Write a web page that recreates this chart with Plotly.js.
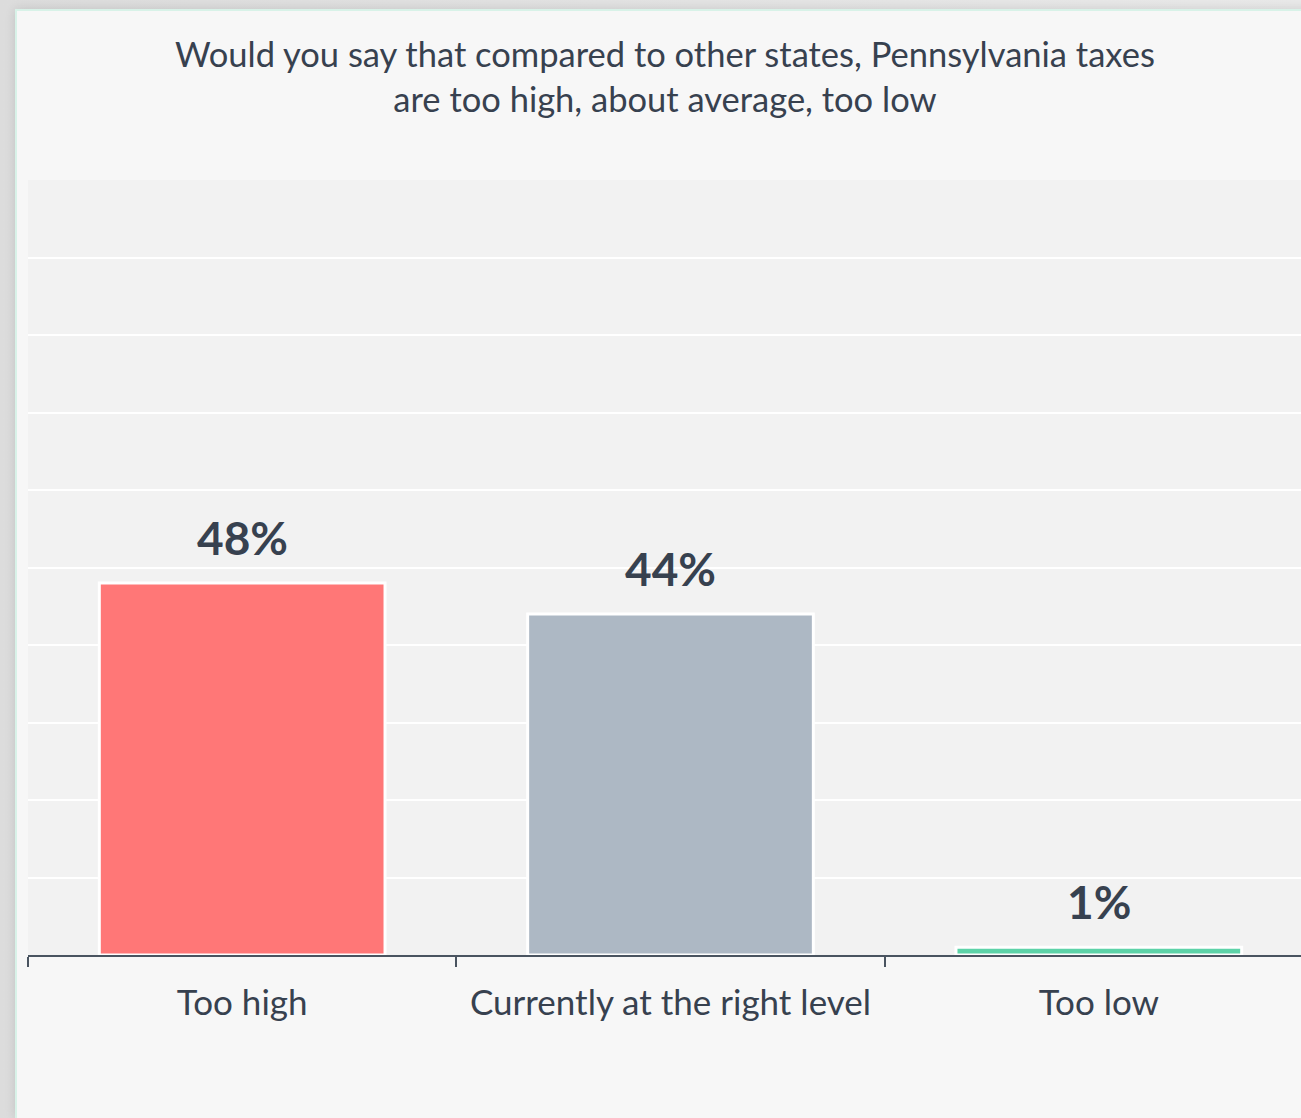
<!DOCTYPE html>
<html>
<head>
<meta charset="utf-8">
<script src="https://cdn.plot.ly/plotly-3.0.1.min.js"></script>
<style>
  html, body { margin: 0; padding: 0; background: #ffffff; overflow: hidden; width: 1301px; height: 1118px; }
  #frame { position: absolute; left: 0; top: 0; width: 1301px; height: 1118px; background: linear-gradient(to right, #dcdcdc, #e9e9e9); }
  #chart { position: absolute; left: 17px; top: 11px; width: 1296px; height: 1107px;
           border-left: 2px solid #d8f2e8; border-top: 2px solid #d8f2e8; margin-left: -2px; margin-top: -2px;
           box-shadow: 0 0 10px rgba(0,0,0,0.12); }
</style>
</head>
<body>
<div id="frame"></div>
<div id="chart"></div>
<script>
const categories = ["Too high", "Currently at the right level", "Too low"];
const values = [48, 44, 1];
const labels = ["48%", "44%", "1%"];
const barColors = ["#FF7777", "#ADB8C4", "#5DD3A8"];
const titleText = "Would you say that compared to other states, Pennsylvania taxes<br>are too high, about average, too low";

const textColor = "#37414F";

const trace = {
  type: "bar",
  x: categories,
  y: values,
  marker: { color: barColors, line: { color: "#ffffff", width: 3 } },
  hoverinfo: "none",
  cliponaxis: false
};

const annotations = categories.map((c, i) => ({
  x: c, y: values[i], xref: "x", yref: "y",
  text: "<b>" + labels[i] + "</b>",
  showarrow: false, yanchor: "bottom", yshift: 16,
  font: { family: "Lato, sans-serif", size: 46, color: textColor }
}));

// Chart title (drawn as an annotation for exact multi-line placement)
annotations.push({
  text: titleText,
  xref: "paper", yref: "paper", x: 0.4955, y: 1.192,
  xanchor: "center", yanchor: "top", align: "center",
  showarrow: false,
  font: { family: "Lato, sans-serif", size: 34.5, color: textColor }
});

const layout = {
  width: 1296, height: 1107,
  margin: { l: 11, r: 0, t: 169, b: 163 },
  paper_bgcolor: "#f7f7f7",
  plot_bgcolor: "#f2f2f2",
  showlegend: false,
  bargap: 0.333,
  xaxis: {
    type: "category",
    showline: true, linecolor: "#4A5460", linewidth: 2,
    ticks: "outside", tickson: "boundaries", ticklen: 10, tickwidth: 2, tickcolor: "#4A5460",
    ticklabelstandoff: 16,
    tickfont: { family: "Lato, sans-serif", size: 35, color: textColor },
    showgrid: false, fixedrange: true
  },
  yaxis: {
    range: [0, 100], dtick: 10,
    showgrid: true, gridcolor: "#ffffff", gridwidth: 2,
    showticklabels: false, zeroline: false, showline: false, ticks: "",
    fixedrange: true
  },
  annotations: annotations
};

Plotly.newPlot("chart", [trace], layout, { displayModeBar: false, staticPlot: true });
</script>
</body>
</html>
